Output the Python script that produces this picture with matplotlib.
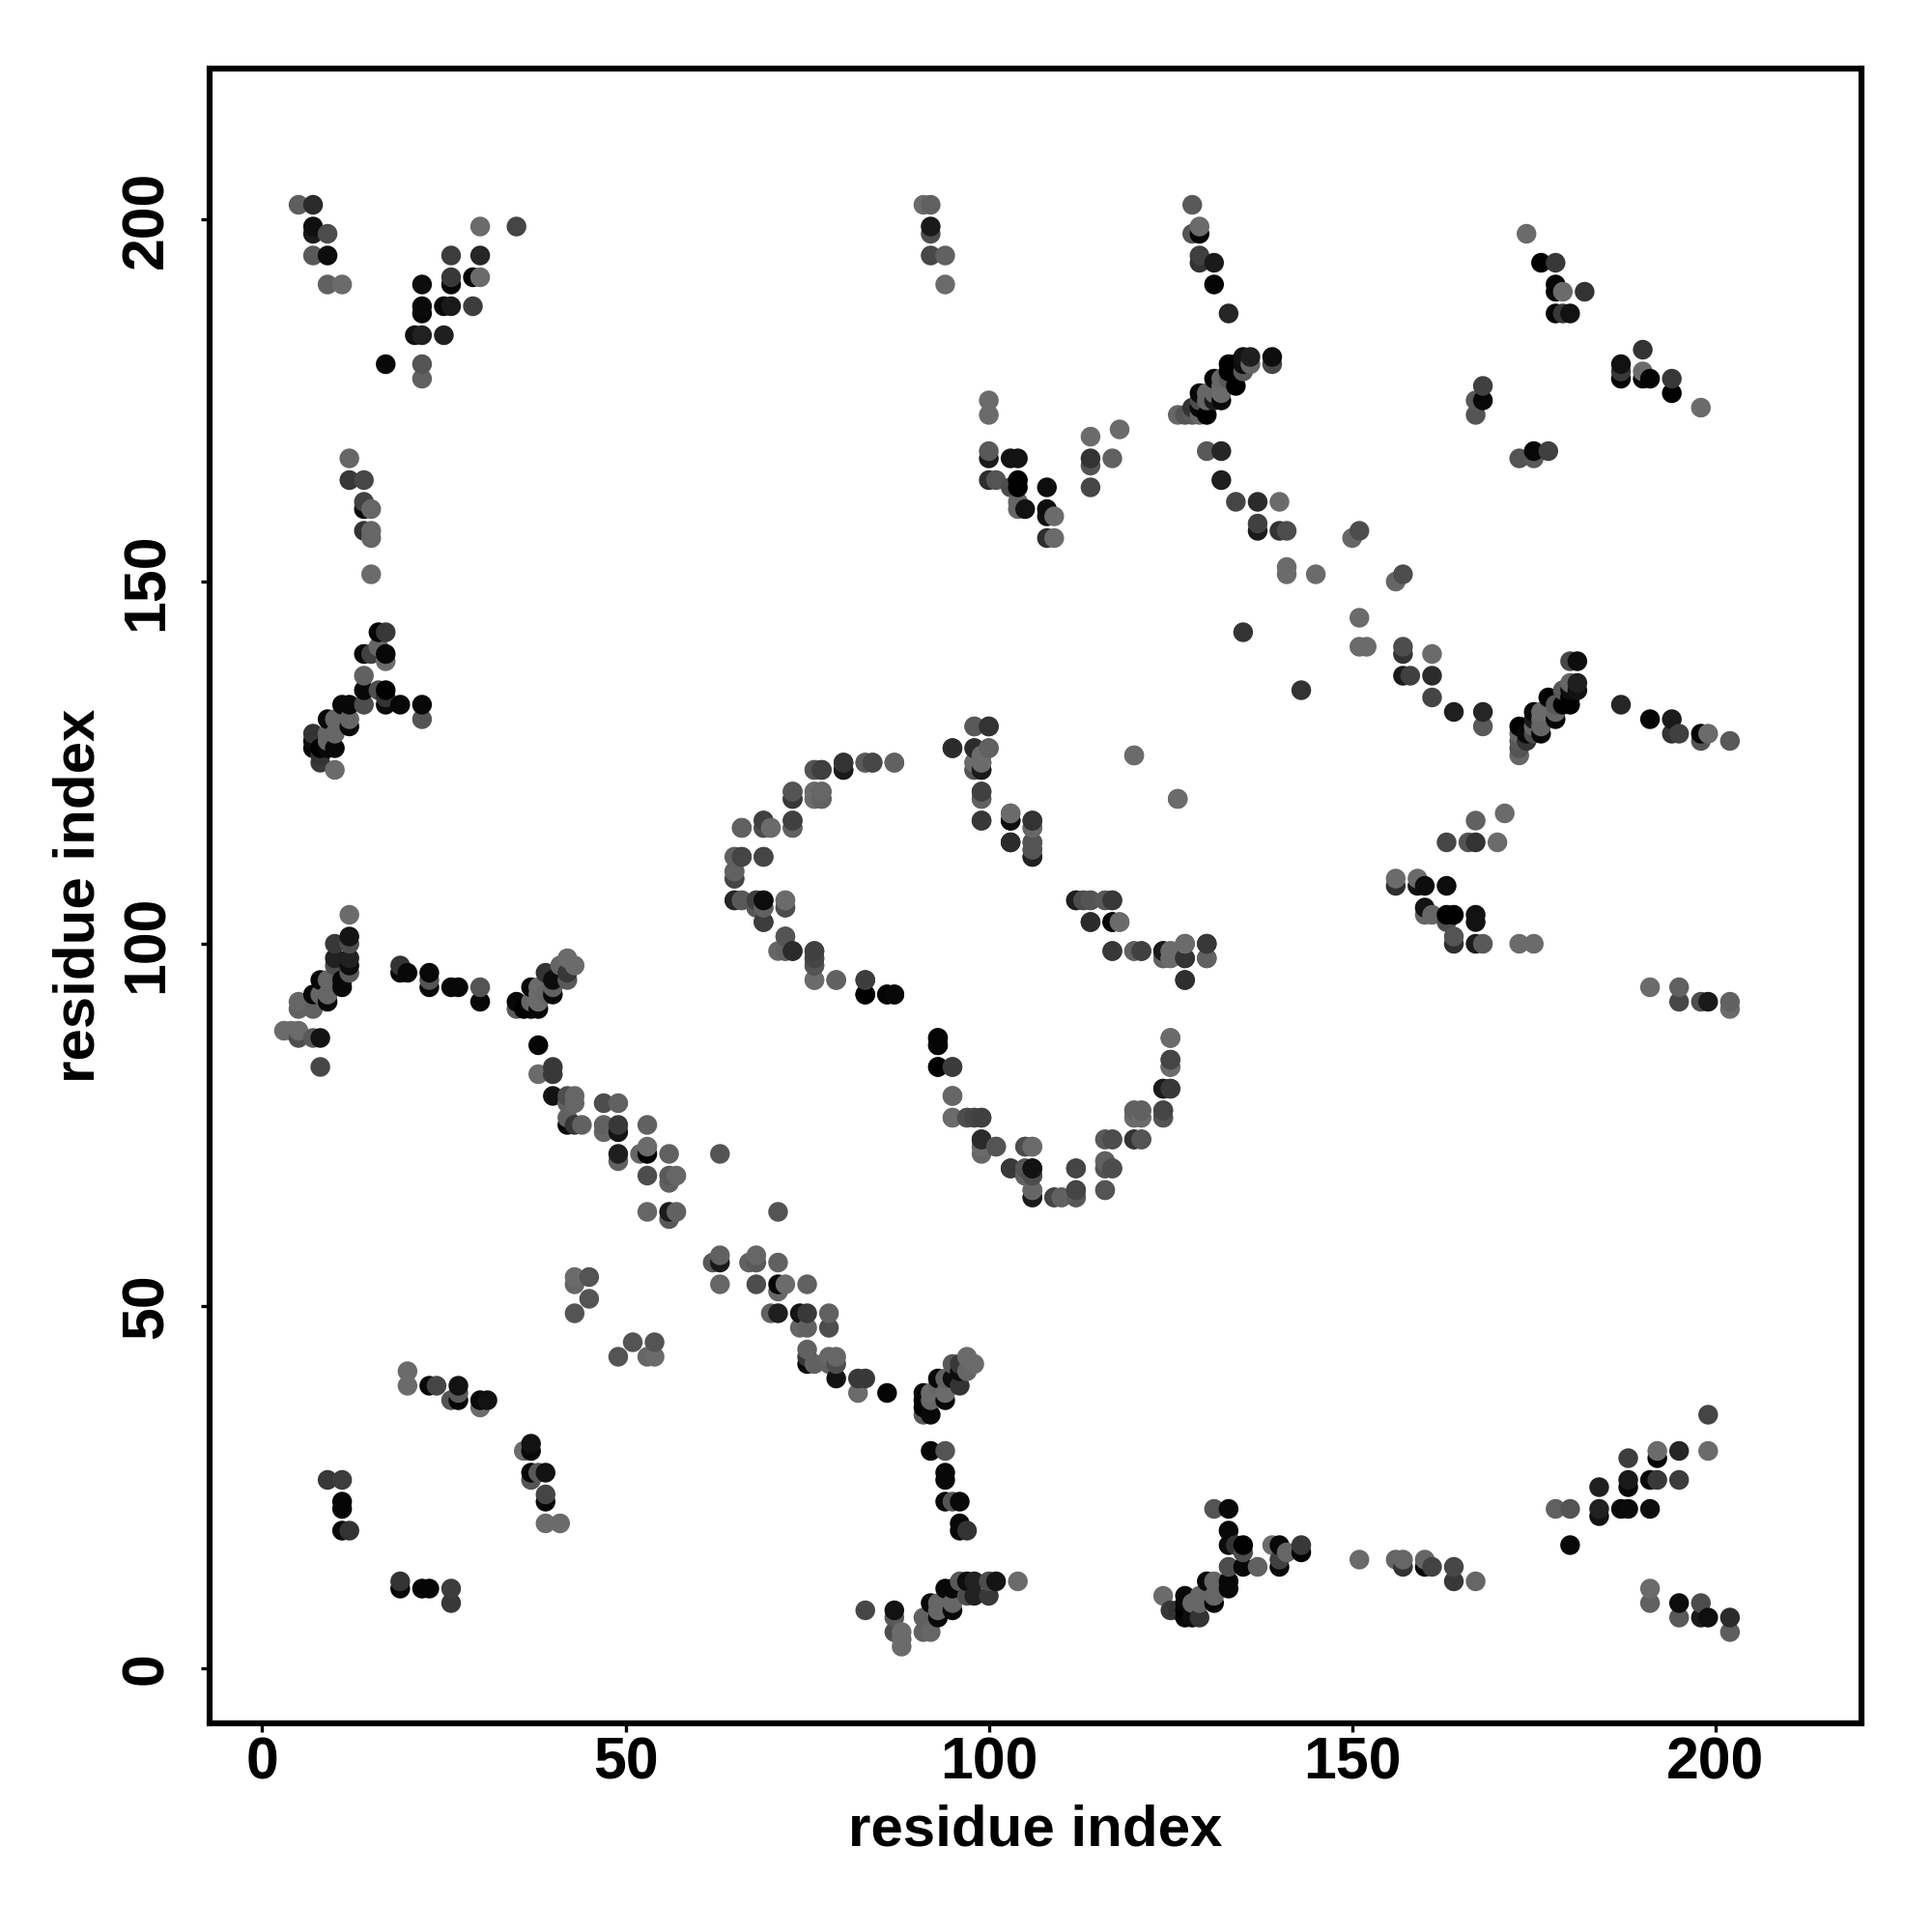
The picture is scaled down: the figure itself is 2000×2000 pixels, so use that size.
import matplotlib
matplotlib.use("Agg")
import matplotlib.pyplot as plt
import numpy as np

plt.rcParams['font.family'] = ['Liberation Sans', 'DejaVu Sans']

corner_top_left = [
    (5,202,.37),(7,202,.17),(7,199,.06),(7,198,.1),(9,198,.3),(7,195,.35),(9,195,.05),
    (9,191,.38),(11,191,.42),(22,191,.05),(26,191,.02),(26,192,.22),(29,192,.02),(30,192,.42),
    (26,195,.24),(30,195,.15),(30,199,.42),(35,199,.27),(22,188,.04),(22,187,.03),(25,188,.03),
    (26,188,.1),(29,188,.24),(21,184,.07),(22,184,.13),(25,184,.12),(17,180,.03),(22,180,.33),
    (22,178,.38),
]
strand_12_160 = [
    (12,167,.4),(12,164,.22),(14,164,.28),(14,161,.26),(14,160,.03),(15,160,.4),(14,157,.2),
    (15,157,.4),(15,156,.4),(15,151,.42),
]
strand_14_135 = [
    (16,143,.02),(17,143,.22),(16,141,.4),(14,140,.03),(15,140,.25),(17,140,.03),(17,139,.42),
    (14,137,.38),(14,135,.03),(16,135,.3),(17,135,.0),(14,133,.3),(11,133,.03),(12,133,.03),
    (17,134,.2),(17,133,.05),(19,133,.03),(22,133,.03),(22,131,.33),(12,131,.4),(12,130,.03),
    (9,131,.03),(10,131,.4),(7,129,.2),(7,128,.05),(9,129,.4),(10,129,.4),(8,127,.0),(7,127,.03),
    (10,127,.03),(9,127,.03),(9,128,.4),(8,126,.2),(8,125,.22),(10,124,.42),
]
strand_10_100 = [
    (12,104,.42),(12,101,.08),(10,100,.22),(12,100,.3),(10,98,.13),(12,98,.13),(12,97,.05),
    (10,97,.3),(12,96,.35),(8,95,.03),(9,95,.4),(11,95,.03),(11,94,.03),(7,93,.03),(8,93,.4),
    (9,93,.4),(9,92,.03),(5,92,.4),(5,91,.38),(7,91,.38),(3,88,.42),(4,88,.42),(5,88,.42),
    (5,87,.3),(7,87,.35),(8,87,.07),(8,83,.28),
]
strand_19_96 = [
    (19,97,.2),(19,96,.03),(20,96,.03),(23,96,.03),(23,95,.33),(23,94,.03),(26,94,.03),
    (27,94,.03),(30,94,.33),(30,92,.03),
]
cluster_38_94 = [
    (35,92,.03),(35,91,.35),(36,91,.0),(37,91,.02),(38,91,.03),(37,94,.03),(37,92,.4),(38,94,.42),
    (38,92,.42),(38,93,.42),(39,96,.2),(39,93,.4),(40,95,.05),(40,93,.03),(40,94,.38),(41,97,.4),
    (41,96,.05),(42,98,.42),(42,96,.22),(42,95,.35),(43,97,.42),
]
strand_38_80 = [
    (38,86,.02),(38,82,.42),(40,83,.22),(40,82,.22),(40,79,.07),(42,79,.3),(43,79,.4),(42,78,.38),
    (43,78,.4),(42,76,.38),(42,75,.03),(43,75,.22),(44,75,.38),(47,78,.3),(49,78,.38),(47,75,.38),
    (47,74,.4),(49,75,.22),(49,74,.08),(53,75,.38),(49,71,.12),(49,70,.38),(52,71,.4),(53,71,.02),
    (53,72,.42),(56,71,.38),(63,71,.33),(53,68,.3),(56,68,.35),(57,68,.4),(56,67,.38),(53,63,.4),
    (56,63,.1),(57,63,.38),(56,62,.35),
]
small_bits = [
    (20,41,.42),(20,39,.42),(23,39,.03),(24,39,.27),(27,39,.07),(27,38,.35),(27,37,.02),(26,37,.33),
    (30,37,.03),(31,37,.07),(30,36,.42),(9,26,.22),(11,26,.24),(11,23,.02),(11,22,.02),(11,19,.03),
    (12,19,.2),(43,54,.42),(45,54,.33),(43,53,.4),(45,51,.33),(43,49,.33),
]
arc_65_110 = [
    (66,116,.33),(69,117,.3),(69,116,.33),(70,116,.38),(73,117,.3),(73,116,.35),(65,112,.35),
    (66,112,.27),(69,112,.27),(65,110,.38),(65,109,.27),(65,106,.1),(66,106,.4),(68,106,.3),
    (69,106,.07),(69,105,.33),(68,105,.38),(72,106,.42),(72,105,.3),(69,103,.22),(72,101,.33),
    (71,99,.4),(72,99,.42),(73,99,.17),(76,99,.25),(76,98,.27),(76,97,.3),(76,95,.42),(79,95,.4),
    (83,95,.23),(83,93,.0),(86,93,.02),(87,93,.02),(73,121,.33),(73,120,.2),(76,121,.42),
    (76,120,.42),(77,121,.38),(77,120,.38),(76,124,.33),(77,124,.27),(80,125,.22),(80,124,.1),
    (83,125,.42),(84,125,.27),(87,125,.42),
]
strand_95_125 = [
    (95,127,.18),(98,127,.2),(100,127,.42),(98,130,.38),(100,130,.22),(99,126,.42),(98,125,.42),
    (99,124,.1),(98,124,.38),(99,125,.42),(99,121,.25),(99,120,.38),(99,117,.22),(103,118,.42),
    (103,117,.03),(103,114,.17),(106,117,.22),(106,116,.35),(106,114,.33),(106,113,.3),
    (106,112,.12),(120,126,.42),(126,120,.42),
]
strand_112_100 = [
    (112,106,.13),(113,106,.33),(114,106,.33),(116,106,.4),(117,106,.2),(114,103,.17),(117,103,.05),
    (118,103,.42),(117,99,.22),(120,99,.38),(121,99,.25),(124,99,.1),(124,98,.33),(125,99,.42),
    (125,98,.42),(127,100,.38),(127,98,.17),(130,100,.2),(130,98,.35),(127,95,.17),
]
u_shape = [
    (93,87,.03),(93,86,.02),(93,83,.0),(95,83,.24),(95,79,.38),(95,76,.42),(97,76,.33),(98,76,.27),
    (99,76,.25),(99,73,.17),(99,72,.38),(101,72,.33),(105,72,.3),(106,72,.42),(103,69,.24),
    (105,69,.38),(105,68,.35),(106,69,.05),(106,68,.25),(106,66,.35),(106,65,.15),(109,65,.27),
    (110,65,.38),(112,69,.27),(112,66,.27),(112,65,.38),(116,70,.42),(116,69,.3),(117,69,.25),
    (116,66,.38),(116,73,.38),(117,73,.25),(120,73,.22),(121,73,.33),(120,77,.38),(121,77,.4),
    (120,76,.42),(121,76,.42),(124,77,.25),(124,76,.33),(124,80,.1),(125,80,.2),(125,84,.28),
    (125,83,.35),(125,87,.38),
]
top_middle = [
    (91,202,.42),(92,202,.38),(92,199,.1),(92,198,.3),(92,195,.28),(94,195,.38),(94,191,.42),
    (128,202,.35),(129,199,.42),(128,198,.33),(129,198,.02),(129,195,.25),(129,194,.2),(131,194,.1),
    (131,191,.02),(133,187,.15),
]
band_130_177 = [
    (139,181,.05),(139,180,.28),(135,181,.07),(136,181,.12),(136,180,.4),(133,180,.0),(134,180,.0),
    (135,180,.05),(135,179,.35),(133,179,.0),(134,177,.0),(133,178,.35),(131,178,.02),(132,178,.4),
    (132,177,.42),(132,176,.42),(132,175,.03),(129,176,.03),(130,176,.4),(131,176,.4),(128,174,.2),
    (129,175,.3),(130,175,.4),(131,175,.1),(129,174,.03),(130,173,.0),(129,173,.4),(126,173,.4),
    (127,173,.33),(128,173,.35),
]
cluster_100_165 = [
    (100,175,.42),(100,173,.42),(100,168,.35),(100,167,.1),(103,167,.07),(104,167,.07),(100,164,.18),
    (101,164,.33),(103,163,.3),(104,164,.0),(104,163,.0),(104,161,.4),(104,160,.4),(105,160,.07),
    (108,163,.05),(108,160,.05),(108,159,.07),(109,159,.42),(108,156,.18),(109,156,.42),(114,170,.42),
    (118,171,.42),(114,167,.2),(114,166,.33),(117,167,.38),(114,163,.28),
]
strand_130_150 = [
    (130,168,.35),(132,168,.15),(132,164,.12),(134,161,.27),(137,161,.17),(140,161,.42),(137,158,.25),
    (137,157,.1),(140,157,.2),(141,157,.3),(141,152,.42),(141,151,.42),(145,151,.42),(135,143,.2),
    (151,157,.3),(150,156,.4),
]
corner_top_right = [
    (174,198,.42),(176,194,.0),(178,194,.22),(178,191,.02),(178,190,.03),(179,190,.42),(182,190,.2),
    (178,187,.02),(179,187,.22),(180,187,.07),(168,177,.25),(167,175,.35),(168,175,.03),(167,173,.33),
]

all_contacts = (corner_top_left + strand_12_160 + strand_14_135 + strand_10_100 + strand_19_96
                + cluster_38_94 + strand_38_80 + small_bits + arc_65_110 + strand_95_125
                + strand_112_100 + u_shape + top_middle + band_130_177 + cluster_100_165
                + strand_130_150 + corner_top_right)

tick_values = [0, 50, 100, 150, 200]

res_i = np.array([c[0] for c in all_contacts])
res_j = np.array([c[1] for c in all_contacts])
grey = np.array([c[2] for c in all_contacts])

x = np.concatenate([res_i, res_j])
y = np.concatenate([res_j, res_i])
g = np.concatenate([grey, grey])

# drawn by x, then y, as in the original overplotting
order = np.lexsort((y, x))
x, y, g = x[order], y[order], g[order]

fig = plt.figure(figsize=(10, 10), dpi=200)
ax = fig.add_axes([216.5/2000, 1-1784/2000, 1710.5/2000, 1713/2000])
ax.scatter(x, y, s=54, c=[str(v) for v in g], linewidths=0, zorder=3)

ax.set_xlim(-7.3, 220.1)
ax.set_ylim(-7.6, 220.8)
ax.set_xticks(tick_values)
ax.set_yticks(tick_values)
ax.tick_params(axis='x', length=3.2, width=1.2, labelsize=21.9, pad=1.5)
ax.tick_params(axis='y', length=3.2, width=1.2, labelsize=21.9, pad=9.5)
for lab in ax.get_xticklabels() + ax.get_yticklabels():
    lab.set_fontweight('bold')
for lab in ax.get_yticklabels():
    lab.set_rotation(90)
    lab.set_va('center')
for s in ax.spines.values():
    s.set_linewidth(2.2)

ax.set_xlabel('residue index', fontsize=21.6, fontweight='bold')
ax.set_ylabel('residue index', fontsize=21.6, fontweight='bold')
ax.xaxis.set_label_coords(0.5, -0.049)
ax.yaxis.set_label_coords(-0.0625, 0.5)

fig.savefig('out.png', dpi=200, facecolor='white')
